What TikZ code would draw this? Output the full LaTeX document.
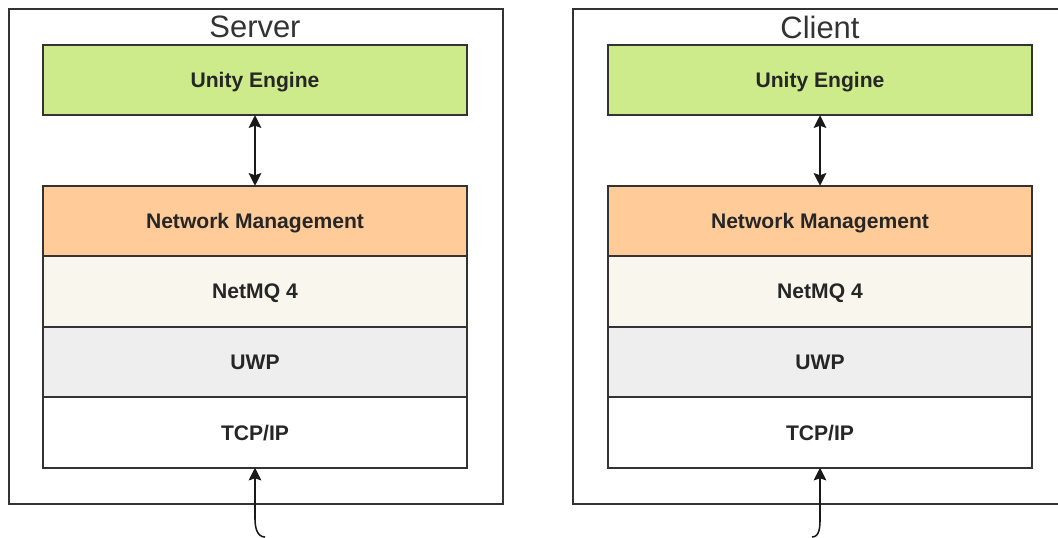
\documentclass[tikz,border=0pt]{standalone}
\usepackage{fontspec}
\setmainfont{Liberation Sans}
\usepackage{tikz}
\usetikzlibrary{positioning, arrows.meta, calc}
\usepackage{xcolor}
\definecolor{edgecol}{HTML}{333333}
\definecolor{unitycol}{HTML}{CDEB8B}
\definecolor{netmgmtcol}{HTML}{FFCC99}
\definecolor{netmqcol}{HTML}{F9F7ED}
\definecolor{uwpcol}{HTML}{EEEEEE}
\tikzset{
  % outer frame = one machine
  machine/.style={draw=edgecol, line width=1.1pt, minimum width=12.35cm,
                  minimum height=12.375cm, inner sep=0pt, outer sep=0pt},
  % frame title
  machtitle/.style={font=\fontsize{22}{26}\selectfont, text=edgecol,
                    inner sep=0pt},
  % one layer of the stack
  layer/.style={draw=edgecol, fill=#1, line width=1.1pt,
                minimum width=10.6cm, minimum height=1.7625cm,
                inner sep=0pt, outer sep=0pt, text depth=0pt,
                font=\fontsize{15}{18}\bfseries\selectfont,
                text=black!85},
  % arrow between layers
  link/.style={line width=1.1pt, black!90},
  arrowtip/.tip={Stealth[length=9pt, width=9pt, inset=1.5pt]},
}

\begin{document}
\begin{tikzpicture}
  \useasboundingbox (0,0) rectangle (26.45,13.425);
  % server side
  \node[machine] (server) at (6.4,7.0125) {};
  \node[machtitle] (stitle) at (6.375,12.75) {Server};
  \node[layer=unitycol] (sunity) at (6.375,11.425) {Unity Engine};
  \node[layer=netmgmtcol] (snet) at (6.375,7.9) {Network Management};
  \node[layer=netmqcol, below=0pt of snet] (snetmq) {NetMQ 4};
  \node[layer=uwpcol, below=0pt of snetmq] (suwp) {UWP};
  \node[layer=white, below=0pt of suwp] (stcp) {TCP/IP};
  \draw[link, arrowtip-arrowtip] (sunity) -- (snet);
  \coordinate (sin) at (6.625,0);
  \draw[link, -arrowtip] (sin) to[out=180, in=270] ++(-0.25,0.45) -- (stcp.south);
  % client side
  \node[machine] (client) at (20.5,7.0125) {};
  \node[machtitle] (ctitle) at (20.5,12.75) {Client};
  \node[layer=unitycol] (cunity) at (20.5,11.425) {Unity Engine};
  \node[layer=netmgmtcol] (cnet) at (20.5,7.9) {Network Management};
  \node[layer=netmqcol, below=0pt of cnet] (cnetmq) {NetMQ 4};
  \node[layer=uwpcol, below=0pt of cnetmq] (cuwp) {UWP};
  \node[layer=white, below=0pt of cuwp] (ctcp) {TCP/IP};
  \draw[link, arrowtip-arrowtip] (cunity) -- (cnet);
  \coordinate (cin) at (20.3,0);
  \draw[link, -arrowtip] (cin) to[out=0, in=270] ++(0.2,0.45) -- (ctcp.south);
\end{tikzpicture}
\end{document}
